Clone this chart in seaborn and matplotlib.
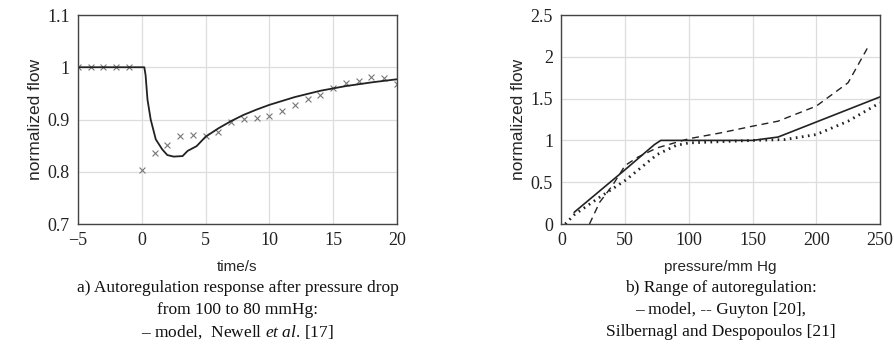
import matplotlib
matplotlib.use("Agg")
import matplotlib.pyplot as plt
import seaborn as sns

# a) autoregulation response after pressure drop
model_t = [-5, 0.2, 0.3, 0.45, 0.7, 1.1, 1.6, 2.0, 2.5, 3.2, 3.6, 4.3, 5, 6, 7, 8, 9, 10, 12, 14, 16, 18, 20]
model_flow = [1.0, 1.0, 0.985, 0.938, 0.900, 0.862, 0.843, 0.832, 0.829, 0.830, 0.840, 0.849, 0.867,
              0.883, 0.897, 0.909, 0.919, 0.928, 0.943, 0.955, 0.964, 0.971, 0.977]
newell_t = [-5, -4, -3, -2, -1, 0, 1, 2, 3, 4, 5, 6, 7, 8, 9, 10, 11, 12, 13, 14, 15, 16, 17, 18, 19, 20]
newell_flow = [1.0, 1.0, 1.0, 1.0, 1.0, 0.804, 0.835, 0.851, 0.868, 0.870, 0.868, 0.876, 0.895, 0.901,
               0.902, 0.906, 0.916, 0.928, 0.940, 0.946, 0.961, 0.970, 0.973, 0.981, 0.979, 0.968]

# b) range of autoregulation
model_p = [10, 50, 73, 78, 150, 170, 250]
model_q = [0.14, 0.65, 0.95, 1.0, 1.0, 1.04, 1.52]
guyton_p = [22, 30, 40, 50, 60, 75, 100, 125, 150, 170, 200, 225, 240]
guyton_q = [0.0, 0.26, 0.46, 0.70, 0.80, 0.91, 1.02, 1.09, 1.17, 1.23, 1.41, 1.69, 2.10]
silb_p = [3, 10, 30, 50, 75, 90, 100, 150, 175, 200, 225, 250]
silb_q = [0.0, 0.11, 0.32, 0.52, 0.83, 0.94, 0.97, 1.0, 1.01, 1.07, 1.23, 1.45]

sns.set_theme(style="whitegrid")
plt.rcParams["font.family"] = ["Liberation Serif", "DejaVu Serif"]
plt.rcParams["mathtext.fontset"] = "custom"
plt.rcParams["mathtext.rm"] = "Liberation Serif"
plt.rcParams["mathtext.it"] = "Liberation Serif:italic"

fig = plt.figure(figsize=(8.94, 3.58), dpi=100)
ax1 = fig.add_axes([0.0872, 0.3743, 0.3568, 0.5838])
ax2 = fig.add_axes([0.628, 0.3743, 0.3563, 0.5838])

sns.lineplot(x=model_t, y=model_flow, ax=ax1, color="#222222", linewidth=1.3)
sns.scatterplot(x=newell_t, y=newell_flow, ax=ax1, marker="x", color="#777777", s=18, linewidth=0.8)
ax1.set_xlim(-5, 20)
ax1.set_ylim(0.7, 1.1)
ax1.set_xticks([-5, 0, 5, 10, 15, 20])
ax1.set_yticks([0.7, 0.8, 0.9, 1.0, 1.1])
ax1.set_yticklabels(["0.7", "0.8", "0.9", "1", "1.1"])
ax1.set_xlabel("time/s", family="Liberation Sans", fontsize=11, labelpad=8)

sns.lineplot(x=model_p, y=model_q, ax=ax2, color="#222222", linewidth=1.2)
sns.lineplot(x=guyton_p, y=guyton_q, ax=ax2, color="#222222", linewidth=1.0, linestyle=(0, (5, 3.5)))
sns.lineplot(x=silb_p, y=silb_q, ax=ax2, color="#222222", linewidth=2.0, linestyle=(0, (0.6, 1.6)))
ax2.set_xlim(0, 250)
ax2.set_ylim(0, 2.5)
ax2.set_xticks([0, 50, 100, 150, 200, 250])
ax2.set_yticks([0, 0.5, 1, 1.5, 2, 2.5])
ax2.set_yticklabels(["0", "0.5", "1", "1.5", "2", "2.5"])
ax2.set_xlabel("pressure/mm Hg", family="Liberation Sans", fontsize=11, labelpad=8)

for ax in (ax1, ax2):
    ax.set_ylabel("normalized flow", family="Liberation Sans", fontsize=12.5, labelpad=3)
    ax.grid(True, color="#dddddd", linewidth=0.9)
    ax.tick_params(labelsize=13, length=0, pad=6, colors="#222222")
    for s in ax.spines.values():
        s.set_color("#444444")
        s.set_linewidth(1.0)

cap = dict(ha="center", va="center", fontsize=12.5, family="Liberation Serif", color="#111111")
fig.text(0.2656, 1 - 288 / 358, "a) Autoregulation response after pressure drop", **cap)
fig.text(0.2656, 1 - 310 / 358, "from 100 to 80 mmHg:", **cap)
fig.text(0.2656, 1 - 332 / 358, r"– model,  Newell $\it{et\ al}$. [17]", **cap)
fig.text(0.806, 1 - 288 / 358, "b) Range of autoregulation:", **cap)
fig.text(0.806, 1 - 310 / 358, "– model, -- Guyton [20],", **cap)
fig.text(0.806, 1 - 332 / 358, "Silbernagl and Despopoulos [21]", **cap)

fig.savefig("out.png", dpi=100)
